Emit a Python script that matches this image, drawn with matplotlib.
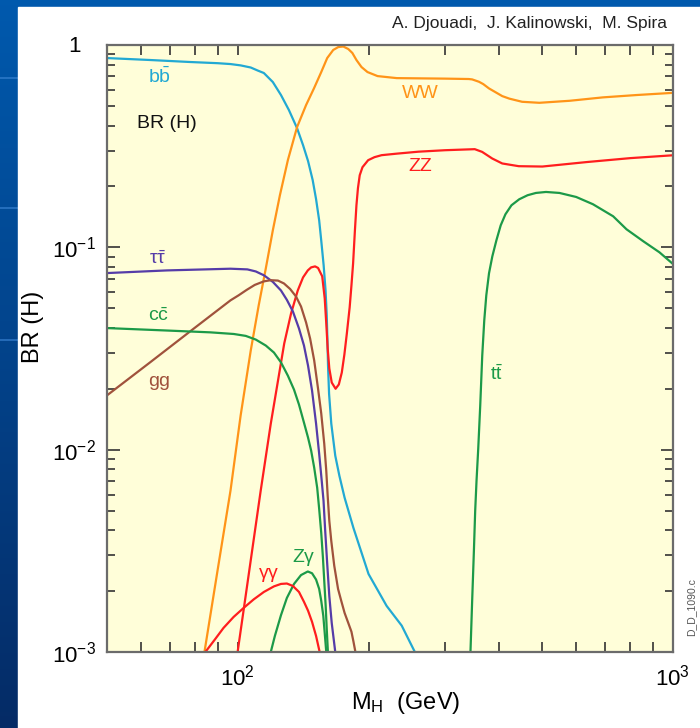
import numpy as np
import matplotlib
matplotlib.use("Agg")
import matplotlib.pyplot as plt
from matplotlib.patches import Rectangle
from matplotlib.ticker import LogLocator, NullFormatter, FixedLocator, FixedFormatter

plt.rcParams['font.family'] = ['Liberation Sans', 'DejaVu Sans']
plt.rcParams['mathtext.fontset'] = 'custom'
plt.rcParams['mathtext.rm'] = 'Liberation Sans'
plt.rcParams['mathtext.it'] = 'Liberation Sans:italic'
plt.rcParams['mathtext.bf'] = 'Liberation Sans:bold'

# ---- SM Higgs branching ratios vs. Higgs mass M_H (GeV) ----
m_bb = [50, 62.9, 77.8, 90.0, 96.3, 101.6, 107.2, 111.2, 114.9, 120.5, 125.8, 131.2,
        137.0, 141.4, 145.2, 148.8, 151.5, 154.0, 155.7, 157.7, 159.3, 160.3, 160.9,
        161.4, 162.3, 164.2, 167.7, 171.4, 176.2, 184.6, 200.0, 220.1, 238.4, 255.6]
br_bb = [0.862, 0.843, 0.824, 0.813, 0.805, 0.793, 0.774, 0.748, 0.727, 0.656, 0.566,
         0.477, 0.388, 0.320, 0.267, 0.215, 0.173, 0.136, 0.108, 0.0815, 0.0612, 0.0461,
         0.0346, 0.0260, 0.0189, 0.01345, 0.00934, 0.00743, 0.00579, 0.00411, 0.00243,
         0.00169, 0.00135, 0.001]

m_ww = [83.9, 89.9, 96.3, 101.6, 107.2, 111.8, 116.1, 120.5, 125.1, 130.5, 137.0, 143.7,
        149.9, 155.7, 160.7, 165.9, 170.4, 175.0, 179.7, 183.6, 187.6, 192.7, 198.9,
        209.8, 232.2, 300, 340, 346.2, 359, 367.1, 378.5, 389.3, 406, 421.7, 451, 494,
        580, 692, 828, 1000]
br_ww = [0.001, 0.00252, 0.00627, 0.01473, 0.0309, 0.0516, 0.0787, 0.1214, 0.181, 0.270,
         0.393, 0.505, 0.612, 0.735, 0.862, 0.945, 0.977, 0.983, 0.955, 0.913, 0.843,
         0.778, 0.735, 0.702, 0.686, 0.682, 0.679, 0.676, 0.658, 0.641, 0.61, 0.589,
         0.559, 0.543, 0.524, 0.518, 0.53, 0.551, 0.566, 0.58]

m_zz = [100, 104.9, 113.0, 119.2, 128.0, 132.7, 137.5, 141.4, 145.0, 147.6, 150.7, 153.1,
        156.5, 158.6, 159.9, 161.1, 162.5, 164.6, 168.0, 170.9, 173.6, 176.0, 178.3,
        181.0, 182.7, 184.3, 186.1, 187.6, 189.1, 190.9, 193.7, 199.6, 206.4, 214.3,
        232.2, 260.6, 300, 351, 365, 385, 406, 443, 502, 636, 800, 1000]
br_zz = [0.001, 0.00205, 0.00627, 0.01345, 0.0335, 0.0471, 0.0612, 0.0710, 0.0769,
         0.0796, 0.0805, 0.0791, 0.0719, 0.0559, 0.0421, 0.0316, 0.0252, 0.02147, 0.0200,
         0.0210, 0.02405, 0.02954, 0.0375, 0.0506, 0.0648, 0.0831, 0.1214, 0.1614, 0.196,
         0.2272, 0.2489, 0.2696, 0.279, 0.2854, 0.2904, 0.297, 0.302, 0.3056, 0.2963,
         0.2748, 0.2597, 0.2518, 0.2508, 0.264, 0.276, 0.285]

m_tt = [343.1, 346.2, 349.4, 351.8, 354.3, 357.5, 361.3, 365.2, 369.1, 373.1, 378.5,
        385.2, 393.6, 402.7, 412.9, 426.3, 444.2, 464.2, 485.2, 511.8, 549.6, 600.5,
        656.3, 730.3, 783.9, 857.0, 933.2, 1000]
br_tt = [0.001, 0.00179, 0.00316, 0.00499, 0.00702, 0.0101, 0.0165, 0.0292, 0.0435,
         0.0579, 0.0744, 0.0902, 0.1083, 0.1285, 0.1457, 0.1614, 0.1728, 0.1809, 0.1857,
         0.1878, 0.1857, 0.1774, 0.1633, 0.1424, 0.1228, 0.1071, 0.0945, 0.0831]

m_tau = [50, 68.8, 96.3, 105.3, 110.1, 115.0, 120.5, 125.8, 129.8, 134.0, 138.4, 142.1,
         145.2, 148.3, 151.5, 154.0, 156.1, 157.6, 159.0, 160.7, 162.5, 164.6, 167.7]
br_tau = [0.0746, 0.0769, 0.0784, 0.0778, 0.0760, 0.0727, 0.0675, 0.0612, 0.0550,
          0.0482, 0.0397, 0.0327, 0.0260, 0.0196, 0.01345, 0.00955, 0.00702, 0.00559,
          0.00397, 0.00273, 0.00189, 0.00139, 0.001]

m_gg = [50, 62.9, 79.2, 96.3, 100.5, 104.9, 109.5, 114.9, 119.2, 123.8, 127.8, 132.0,
        136.2, 139.9, 143.7, 146.8, 150.0, 153.1, 155.7, 158.2, 159.9, 161.1, 162.5,
        164.2, 166.8, 170.2, 173.1, 176.2, 179.7, 182.7, 184.6, 186.6]
br_gg = [0.0185, 0.0270, 0.0396, 0.0547, 0.0579, 0.0616, 0.0652, 0.0679, 0.0688, 0.0685,
         0.0663, 0.0623, 0.0572, 0.0510, 0.0425, 0.0354, 0.0276, 0.0200, 0.0151, 0.0107,
         0.00787, 0.00592, 0.00445, 0.00354, 0.00267, 0.00205, 0.00179, 0.00156, 0.00139,
         0.00126, 0.00113, 0.001]

m_cc = [50, 68.8, 86.6, 98.0, 104.4, 110.1, 116.1, 121.2, 125.8, 130.5, 134.8, 138.4,
        142.1, 145.2, 147.6, 150.0, 152.4, 154.0, 155.7, 157.1, 158.2, 159.4, 160.3, 161.3]
br_cc = [0.0399, 0.0388, 0.0380, 0.0373, 0.0365, 0.0350, 0.0327, 0.0302, 0.0270, 0.0232,
         0.0198, 0.0167, 0.0136, 0.01147, 0.00989, 0.00815, 0.00648, 0.00510, 0.00388,
         0.00293, 0.00225, 0.00169, 0.00130, 0.001]

m_zgam = [119.2, 121.8, 125.8, 129.8, 134.8, 139.9, 145.0, 148.3, 151.5, 154.0, 155.7,
          157.4, 158.6, 159.9]
br_zgam = [0.001, 0.0012, 0.00152, 0.00185, 0.00217, 0.00240, 0.0025, 0.00245, 0.00228,
           0.00205, 0.00179, 0.00151, 0.00124, 0.001]

m_gamgam = [84.3, 88.5, 92.8, 97.9, 103.2, 108.9, 114.9, 121.2, 125.8, 129.8, 134.0,
            138.4, 142.1, 145.2, 148.3, 151.5, 154.4]
br_gamgam = [0.001, 0.001147, 0.001315, 0.00149, 0.00165, 0.00182, 0.00198, 0.00211,
             0.00217, 0.00218, 0.00212, 0.00198, 0.00177, 0.0016, 0.00141, 0.0012, 0.001]

x_ticks = [100, 1000]
x_ticklabels = [r'$\mathrm{10^2}$', r'$\mathrm{10^3}$']
y_ticks = [1e-3, 1e-2, 1e-1]
y_ticklabels = [r'$\mathrm{10^{-3}}$', r'$\mathrm{10^{-2}}$', r'$\mathrm{10^{-1}}$']

C_BB = '#22a9d3'
C_WW = '#ff9418'
C_ZZ = '#ff1e1e'
C_TAU = '#553ca8'
C_GG = '#a0523c'
C_GREEN = '#1c9a48'

W, H = 700, 728
fig = plt.figure(figsize=(W / 100, H / 100), dpi=100)

# slide background: blue gradient with a white panel
bg = fig.add_axes([0, 0, 1, 1])
bg.set_axis_off()
t = np.linspace(0, 1, 256)[:, None, None]
top = np.array([0.0, 0.35, 0.68])
bot = np.array([0.02, 0.17, 0.40])
grad = top + (bot - top) * t
bg.imshow(grad, aspect='auto', extent=[0, 1, 0, 1])
for yl in (78, 208, 340):
    bg.plot([0, 18 / W], [1 - yl / H] * 2, color='#3d86d6', lw=1.2, alpha=0.7)
bg.add_patch(Rectangle((18 / W, 0), 1 - 18 / W, 1 - 7 / H, color='white', zorder=3))
bg.set_xlim(0, 1)
bg.set_ylim(0, 1)

L, R, T, B = 106.7, 672.5, 45, 652
ax = fig.add_axes([L / W, 1 - B / H, (R - L) / W, (B - T) / H])
ax.set_facecolor('#fffed9')
ax.set_xscale('log')
ax.set_yscale('log')
ax.set_xlim(50, 1000)
ax.set_ylim(1e-3, 1)

lw = 1.6
curves = [
    (m_bb, br_bb, C_BB),
    (m_ww, br_ww, C_WW),
    (m_zz, br_zz, C_ZZ),
    (m_tt, br_tt, C_GREEN),
    (m_tau, br_tau, C_TAU),
    (m_gg, br_gg, C_GG),
    (m_cc, br_cc, C_GREEN),
    (m_zgam, br_zgam, C_GREEN),
    (m_gamgam, br_gamgam, C_ZZ),
]
for m, br, c in curves:
    ax.plot(m, br, color=c, lw=lw, solid_joinstyle='round', solid_capstyle='round')

for s in ax.spines.values():
    s.set_color('#6b6b6b')
    s.set_linewidth(1.6)

ax.xaxis.set_major_locator(FixedLocator(x_ticks))
ax.xaxis.set_major_formatter(FixedFormatter(x_ticklabels))
ax.xaxis.set_minor_locator(LogLocator(base=10, subs=np.arange(2, 10)))
ax.xaxis.set_minor_formatter(NullFormatter())
ax.yaxis.set_major_locator(FixedLocator(y_ticks + [1.0]))
ax.yaxis.set_major_formatter(FixedFormatter(y_ticklabels + ['']))
ax.yaxis.set_minor_locator(LogLocator(base=10, subs=np.arange(2, 10)))
ax.yaxis.set_minor_formatter(NullFormatter())

ax.tick_params(which='both', direction='in', top=True, right=True, color='#333333',
               width=1.2)
ax.tick_params(axis='x', which='major', length=7, pad=9, labelsize=16)
ax.tick_params(axis='x', which='minor', length=7)
ax.tick_params(axis='y', which='major', length=9, pad=8, labelsize=16)
ax.tick_params(axis='y', which='minor', length=6)

fig.text(74 / W, 1 - 47 / H, '1', fontsize=16, ha='center', va='center')

fs = 14
ax.text(66.0, 0.70, r'$\mathrm{b\bar{b}}$', color=C_BB, fontsize=fs, ha='center', va='center')
ax.text(68.9, 0.407, 'BR (H)', color='#111111', fontsize=fs, ha='center', va='center')
ax.text(65.3, 0.0872, r'$\mathrm{\tau\bar{\tau}}$', color=C_TAU, fontsize=fs, ha='center', va='center')
ax.text(65.7, 0.0459, r'$\mathrm{c\bar{c}}$', color=C_GREEN, fontsize=fs, ha='center', va='center')
ax.text(66.0, 0.0217, 'gg', color=C_GG, fontsize=fs, ha='center', va='center')
ax.text(262.6, 0.578, 'WW', color=C_WW, fontsize=fs, ha='center', va='center')
ax.text(262.6, 0.252, 'ZZ', color=C_ZZ, fontsize=fs, ha='center', va='center')
ax.text(393.5, 0.0237, r'$\mathrm{t\bar{t}}$', color=C_GREEN, fontsize=fs, ha='center', va='center')
ax.text(118.0, 0.00239, r'$\mathrm{\gamma\gamma}$', color=C_ZZ, fontsize=fs, ha='center', va='center')
ax.text(142.2, 0.00292, r'$\mathrm{Z\gamma}$', color=C_GREEN, fontsize=fs, ha='center', va='center')

fig.text(667 / W, 1 - 28 / H, 'A. Djouadi,  J. Kalinowski,  M. Spira', fontsize=12.5,
         ha='right', va='baseline', color='#222222')
fig.text(406 / W, 1 - 703 / H, r'$\mathrm{M_H}$  (GeV)', fontsize=17, ha='center', va='center')
fig.text(33 / W, 1 - 327 / H, 'BR (H)', fontsize=17, ha='center', va='center', rotation=90)
fig.text(691 / W, 1 - 607 / H, 'D_D_1090.c', fontsize=7.5, ha='center', va='center',
         rotation=90, color='#555555')

fig.savefig('out.png', dpi=100)
